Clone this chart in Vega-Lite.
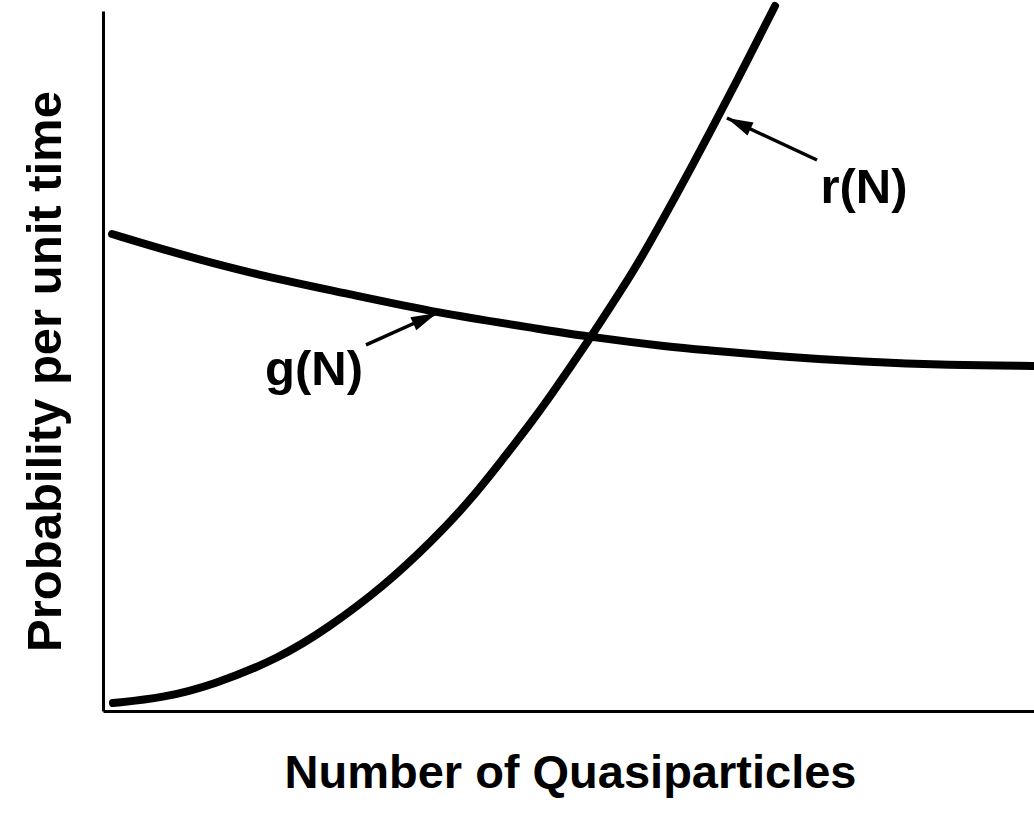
{
  "$schema": "https://vega.github.io/schema/vega-lite/v6.json",
  "width": 931,
  "height": 700,
  "autosize": {"type": "none"},
  "padding": {"left": 103, "top": 11, "right": 0, "bottom": 105},
  "background": "white",
  "config": {
    "view": {"stroke": null},
    "font": "Liberation Sans",
    "axis": {
      "domainColor": "black",
      "domainWidth": 3,
      "ticks": false,
      "labels": false,
      "grid": false,
      "titleFont": "Liberation Sans",
      "titleFontWeight": "bold",
      "titleColor": "black"
    }
  },
  "datasets": {
    "curves": [
      {"rate": "r(N)", "n": 1.07, "p": 1.14},
      {"rate": "r(N)", "n": 6.44, "p": 1.86},
      {"rate": "r(N)", "n": 11.82, "p": 3.71},
      {"rate": "r(N)", "n": 19.01, "p": 7.57},
      {"rate": "r(N)", "n": 24.17, "p": 11.86},
      {"rate": "r(N)", "n": 30.08, "p": 17.71},
      {"rate": "r(N)", "n": 35.45, "p": 24.43},
      {"rate": "r(N)", "n": 39.1, "p": 29.57},
      {"rate": "r(N)", "n": 42.64, "p": 35.43},
      {"rate": "r(N)", "n": 46.19, "p": 41.57},
      {"rate": "r(N)", "n": 47.69, "p": 44.29},
      {"rate": "r(N)", "n": 52.31, "p": 53.2},
      {"rate": "r(N)", "n": 55.85, "p": 60.5},
      {"rate": "r(N)", "n": 57.68, "p": 64.4},
      {"rate": "r(N)", "n": 61.22, "p": 72.8},
      {"rate": "r(N)", "n": 65.52, "p": 83.43},
      {"rate": "r(N)", "n": 68.74, "p": 91.71},
      {"rate": "r(N)", "n": 72.18, "p": 100.71},
      {"rate": "g(N)", "n": 0.97, "p": 68.14},
      {"rate": "g(N)", "n": 7.52, "p": 65.5},
      {"rate": "g(N)", "n": 16.54, "p": 62.29},
      {"rate": "g(N)", "n": 26.21, "p": 59.64},
      {"rate": "g(N)", "n": 35.88, "p": 56.86},
      {"rate": "g(N)", "n": 46.94, "p": 54.57},
      {"rate": "g(N)", "n": 52.31, "p": 53.43},
      {"rate": "g(N)", "n": 61.22, "p": 51.96},
      {"rate": "g(N)", "n": 64.12, "p": 51.64},
      {"rate": "g(N)", "n": 73.79, "p": 50.54},
      {"rate": "g(N)", "n": 81.31, "p": 49.89},
      {"rate": "g(N)", "n": 90.98, "p": 49.39},
      {"rate": "g(N)", "n": 99.89, "p": 49.29}
    ],
    "labels": [
      {"rate": "r(N)", "textN": 81.74, "textP": 74.71, "tailN": 76.69, "tailP": 78.71, "tipN": 67.02, "tipP": 84.71},
      {"rate": "g(N)", "textN": 22.66, "textP": 48.71, "tailN": 28.25, "tailP": 52.29, "tipN": 35.88, "tipP": 56.86}
    ]
  },
  "layer": [
    {
      "data": {"name": "curves"},
      "mark": {"type": "line", "color": "black", "strokeWidth": 8, "strokeCap": "round", "strokeJoin": "round", "interpolate": "basis"},
      "encoding": {
        "x": {"field": "n", "type": "quantitative", "scale": {"domain": [0, 100], "nice": false, "zero": false}, "axis": {"title": "Number of Quasiparticles", "titleFontSize": 47, "titleX": 467, "titleY": 76, "titleBaseline": "alphabetic", "titleAlign": "center"}},
        "y": {"field": "p", "type": "quantitative", "scale": {"domain": [0, 100], "nice": false, "zero": false}, "axis": {"title": "Probability per unit time", "titleFontSize": 49, "titleX": -58, "titleY": 360, "titleAngle": -90, "titleBaseline": "middle", "titleAlign": "center"}},
        "detail": {"field": "rate"}
      }
    },
    {
      "data": {"name": "labels"},
      "mark": {"type": "rule", "color": "black", "strokeWidth": 3.5},
      "encoding": {
        "x": {"field": "tailN", "type": "quantitative"},
        "y": {"field": "tailP", "type": "quantitative"},
        "x2": {"field": "tipN"},
        "y2": {"field": "tipP"}
      }
    },
    {
      "data": {"name": "labels"},
      "transform": [{"filter": "datum.rate === 'r(N)'"}],
      "mark": {"type": "point", "shape": "M0,0L0.55,2L-0.55,2Z", "filled": true, "color": "black", "opacity": 1, "size": 676, "angle": 295},
      "encoding": {
        "x": {"field": "tipN", "type": "quantitative"},
        "y": {"field": "tipP", "type": "quantitative"}
      }
    },
    {
      "data": {"name": "labels"},
      "transform": [{"filter": "datum.rate === 'g(N)'"}],
      "mark": {"type": "point", "shape": "M0,0L0.55,2L-0.55,2Z", "filled": true, "color": "black", "opacity": 1, "size": 676, "angle": 65.7},
      "encoding": {
        "x": {"field": "tipN", "type": "quantitative"},
        "y": {"field": "tipP", "type": "quantitative"}
      }
    },
    {
      "data": {"name": "labels"},
      "mark": {"type": "text", "font": "Liberation Sans", "fontSize": 49, "fontWeight": "bold", "color": "black", "align": "center", "baseline": "middle"},
      "encoding": {
        "x": {"field": "textN", "type": "quantitative"},
        "y": {"field": "textP", "type": "quantitative"},
        "text": {"field": "rate"}
      }
    }
  ]
}
